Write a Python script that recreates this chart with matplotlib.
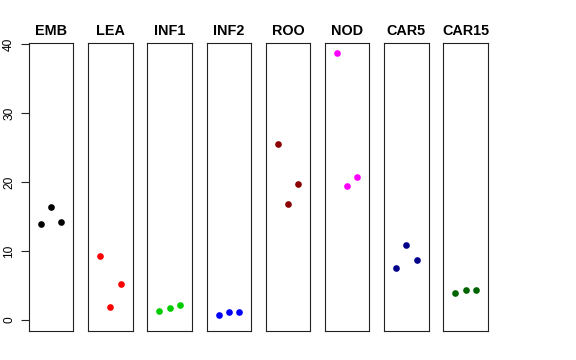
import matplotlib
matplotlib.use("Agg")
import matplotlib.pyplot as plt

plt.rcParams['font.family'] = ['Liberation Sans', 'DejaVu Sans']

tissues = ["EMB", "LEA", "INF1", "INF2", "ROO", "NOD", "CAR5", "CAR15"]
colors = ["#000000", "#FF0000", "#00CD00", "#0000FF", "#8B0000", "#FF00FF", "#00008B", "#006400"]
reps = [1, 2, 3]
emb = [14.0, 16.4, 14.2]
lea = [9.3, 1.95, 5.15]
inf1 = [1.35, 1.7, 2.2]
inf2 = [0.7, 1.15, 1.15]
roo = [25.5, 16.8, 19.8]
nod = [38.7, 19.4, 20.75]
car5 = [7.6, 10.95, 8.7]
car15 = [3.85, 4.35, 4.3]
values = [emb, lea, inf1, inf2, roo, nod, car5, car15]
yticks = [0, 10, 20, 30, 40]

W, H = 576, 360
fig = plt.figure(figsize=(W / 100, H / 100), dpi=100)
left0, step, width = 29.0, 59.2, 44.4
top, bottom = 43.3, 331.0

for i, (name, col, vals) in enumerate(zip(tissues, colors, values)):
    ax = fig.add_axes([(left0 + i * step) / W, 1 - bottom / H, width / W, (bottom - top) / H])
    ax.plot(reps, vals, 'o', color=col, markersize=4.8, markeredgewidth=0)
    ax.set_xlim(-0.16, 4.16)
    ax.set_ylim(-1.6, 40.15)
    ax.set_xticks([])
    ax.set_title(name, fontsize=10.4, fontweight='bold', pad=6)
    for s in ax.spines.values():
        s.set_linewidth(0.8)
        s.set_color('#222222')
    if i == 0:
        ax.set_yticks(yticks)
        ax.tick_params(axis='y', direction='out', length=6, width=0.8, labelsize=8.6, pad=4,
                       color='#222222')
        for lab in ax.get_yticklabels():
            lab.set_rotation(90)
            lab.set_va('center')
    else:
        ax.set_yticks([])

fig.savefig("out.png", dpi=100)
